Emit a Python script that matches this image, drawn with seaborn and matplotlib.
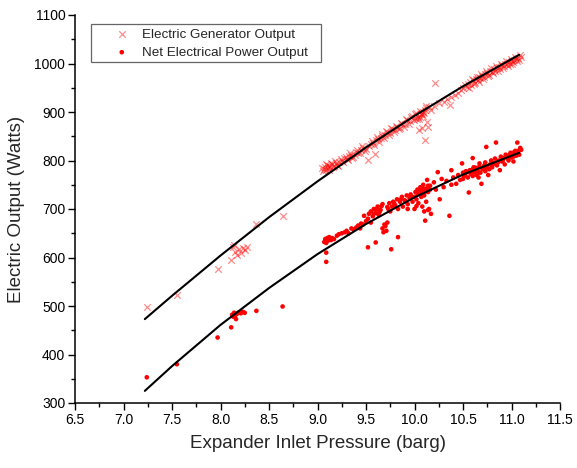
import numpy as np
import pandas as pd
import matplotlib
matplotlib.use("Agg")
import matplotlib.pyplot as plt
import matplotlib.patches as mpatches
import seaborn as sns
from matplotlib.ticker import AutoMinorLocator

# ---------------- data ----------------
gen_x = [7.24, 7.55, 7.97, 8.11, 8.13, 8.15, 8.17, 8.19, 8.21, 8.23, 8.25, 8.27, 8.14, 8.37, 8.64,
         9.05, 9.07, 9.08, 9.09, 9.10, 9.11, 9.12, 9.13, 9.15, 9.17, 9.19, 9.20,
         9.22, 9.25, 9.27, 9.30, 9.32, 9.35, 9.37, 9.40, 9.42, 9.45, 9.47, 9.50, 9.52, 9.59,
         9.55, 9.57, 9.60, 9.62, 9.65, 9.67, 9.70, 9.72, 9.75, 9.77, 9.80, 9.82, 9.85, 9.87,
         9.90, 9.92, 9.95, 9.97, 10.00, 10.02, 10.04, 10.05, 10.06, 10.07, 10.08, 10.09, 10.10,
         10.11, 10.12, 10.05, 10.08, 10.11, 10.14, 10.13, 10.15, 10.17, 10.20, 10.21, 10.25,
         10.30, 10.33, 10.37, 10.38, 10.42, 10.45, 10.48, 10.50, 10.52, 10.54, 10.55, 10.57,
         10.58, 10.60, 10.62, 10.63, 10.65, 10.67, 10.68, 10.70, 10.72, 10.73, 10.75, 10.77,
         10.78, 10.80, 10.82, 10.83, 10.85, 10.87, 10.88, 10.90, 10.92, 10.93, 10.95, 10.97,
         10.98, 11.00, 11.02, 11.03, 11.05, 11.07, 11.08, 11.10,
         9.06, 9.09, 9.12, 9.14, 9.16, 9.18, 9.21, 9.24, 9.26, 9.29, 9.31, 9.34, 9.36, 9.39,
         9.41, 9.44, 9.46, 9.49, 9.53, 9.56, 9.58, 9.61, 9.63, 9.66, 9.69, 9.71, 9.74, 9.76,
         9.79, 9.81, 9.84, 9.86, 9.89, 9.91, 9.94, 9.96, 9.99, 10.01, 10.03, 10.06, 10.09, 10.12,
         10.56, 10.59, 10.61, 10.64, 10.66, 10.69, 10.71, 10.74, 10.76, 10.79, 10.81, 10.84,
         10.86, 10.89, 10.91, 10.94, 10.96, 10.99, 11.01, 11.04, 11.06, 11.09]
gen_y = [497, 523, 577, 594, 621, 612, 605, 618, 610, 620, 616, 622, 625, 670, 686,
         785, 782, 787, 780, 790, 784, 788, 786, 792, 789, 795, 791,
         797, 800, 806, 804, 810, 812, 808, 818, 815, 822, 826, 824, 801, 813,
         833, 836, 842, 845, 846, 850, 853, 858, 857, 864, 862, 870, 868, 876,
         875, 884, 882, 892, 888, 898, 890, 885, 890, 895, 895, 900, 898,
         905, 908, 862, 868, 842, 869, 880, 910, 905, 912, 959, 918,
         920, 926, 914, 930, 935, 940, 945, 950, 955, 952, 958, 962,
         956, 965, 960, 968, 966, 972, 970, 975, 973, 978, 980, 976,
         984, 982, 988, 985, 990, 993, 988, 996, 994, 1000, 998, 1003,
         1000, 1006, 1004, 1008, 1010, 1012, 1008, 1014,
         778, 792, 781, 795, 786, 798, 789, 803, 796, 808, 801, 815, 806, 812,
         822, 816, 830, 820, 830, 840, 832, 848, 838, 854, 846, 860, 852, 866,
         858, 872, 864, 878, 870, 886, 876, 890, 884, 896, 886, 902, 892, 912,
         950, 968, 958, 972, 962, 978, 968, 984, 974, 990, 980, 995,
         984, 1000, 990, 1005, 995, 1010, 1000, 1014, 1005, 1017]

net_x = [7.24, 7.55, 7.97, 8.11, 8.16, 8.12, 8.14, 8.15, 8.17, 8.19, 8.21, 8.23, 8.25, 8.13, 8.37, 8.64,
         9.07, 9.08, 9.09, 9.10, 9.11, 9.12, 9.14, 9.15, 9.17, 9.09, 9.09, 9.20, 9.22, 9.25,
         9.28, 9.30, 9.32, 9.35, 9.37, 9.40, 9.42, 9.44, 9.45, 9.47, 9.48, 9.50, 9.52, 9.52,
         9.53, 9.55, 9.55, 9.57, 9.58, 9.60, 9.60, 9.62, 9.63, 9.65, 9.67, 9.67, 9.68, 9.69,
         9.70, 9.71, 9.72, 9.73, 9.74, 9.75, 9.76, 9.77, 9.78, 9.80, 9.82, 9.83, 9.83, 9.85,
         9.87, 9.88, 9.90, 9.92, 9.93, 9.95, 9.96, 9.98, 10.00, 10.00, 10.01, 10.02, 10.03,
         10.04, 10.05, 10.06, 10.07, 10.08, 10.08, 10.09, 10.10, 10.10, 10.11, 10.12, 10.12,
         10.13, 10.14, 10.15, 10.16, 10.17, 10.20, 10.22, 10.26, 10.28, 10.30, 10.33, 10.36,
         10.38, 10.40, 10.43, 10.45, 10.47, 10.50, 10.50, 10.52, 10.53, 10.55, 10.56, 10.57,
         10.58, 10.60, 10.60, 10.62, 10.63, 10.64, 10.65, 10.66, 10.67, 10.68, 10.69, 10.70,
         10.72, 10.73, 10.74, 10.75, 10.76, 10.78, 10.80, 10.82, 10.84, 10.85, 10.87, 10.88,
         10.90, 10.92, 10.93, 10.95, 10.97, 10.98, 11.00, 11.01, 11.02, 11.03, 11.05, 11.06,
         11.07, 11.08, 11.10, 10.24, 10.38, 10.49, 10.60, 10.02, 9.93, 10.14,
         10.51, 10.54, 10.59, 10.61, 10.65, 10.67, 10.71, 10.73, 10.77, 10.79, 10.81, 10.83,
         10.86, 10.89, 10.91, 10.94, 10.96, 10.99, 11.02, 11.04, 11.07, 11.09,
         9.58, 9.61, 9.64, 9.66, 9.72, 9.79, 9.86, 9.91, 9.97, 10.03, 10.06, 10.09, 10.11,
         10.14, 10.16]
net_y = [353, 380, 435, 456, 473, 482, 486, 480, 484, 487, 485, 488, 486, 478, 490, 499,
         632, 638, 630, 640, 635, 642, 636, 640, 638, 610, 591, 645, 648, 650,
         652, 655, 650, 660, 658, 662, 666, 660, 670, 668, 686, 675, 621, 680,
         690, 672, 695, 685, 700, 631, 692, 705, 688, 698, 710, 660, 652, 668,
         665, 655, 672, 700, 712, 695, 617, 705, 715, 708, 720, 642, 700, 715,
         725, 705, 718, 728, 710, 722, 730, 715, 725, 700, 735, 720, 740,
         712, 730, 745, 725, 735, 705, 750, 728, 695, 676, 742, 715,
         760, 735, 700, 748, 690, 755, 740, 720, 762, 745, 758, 686,
         750, 765, 752, 770, 760, 775, 762, 770, 778, 765, 734, 780,
         772, 768, 782, 776, 785, 770, 780, 765, 788, 775, 752, 782,
         790, 778, 828, 785, 770, 792, 786, 795, 837, 790, 800, 780,
         798, 805, 792, 808, 800, 812, 806, 815, 798, 818, 810, 837,
         820, 812, 822, 776, 780, 794, 805, 706, 700, 698,
         768, 776, 774, 786, 773, 794, 784, 796, 782, 800, 792, 804,
         796, 808, 800, 812, 804, 816, 808, 820, 814, 826,
         690, 700, 694, 706, 704, 712, 720, 716, 726, 732, 738, 742, 736,
         748, 740]

fit_x = [7.22, 7.5, 8.0, 8.5, 9.0, 9.5, 10.0, 10.5, 11.08]
gen_fit_y = [473, 521, 604, 683, 757, 827, 892, 953, 1018]
net_fit_y = [325, 376, 461, 537, 607, 669, 724, 771, 816]

x_ticks = [6.5, 7.0, 7.5, 8.0, 8.5, 9.0, 9.5, 10.0, 10.5, 11.0, 11.5]
y_ticks = [300, 400, 500, 600, 700, 800, 900, 1000, 1100]

# ---------------- plot ----------------
sns.set_theme(style="ticks")
plt.rcParams['font.family'] = ['Liberation Sans', 'DejaVu Sans']

W, H = 577, 468
fig = plt.figure(figsize=(W / 100, H / 100), dpi=100)
ax = fig.add_axes([75 / W, 1 - 403 / H, 485 / W, 388 / H])

gen_df = pd.DataFrame({"x": gen_x, "y": gen_y})
net_df = pd.DataFrame({"x": net_x, "y": net_y})
fit_df = pd.DataFrame({"x": fit_x, "gen": gen_fit_y, "net": net_fit_y})

sns.scatterplot(data=gen_df, x="x", y="y", marker="x", color="#ff0000", alpha=0.45,
                s=22, linewidth=0.9, ax=ax, label="Electric Generator Output", zorder=2)
sns.scatterplot(data=net_df, x="x", y="y", marker="o", color="#ff0000", edgecolor="none",
                s=11, ax=ax, label="Net Electrical Power Output", zorder=2)
sns.lineplot(data=fit_df, x="x", y="gen", color="black", linewidth=1.5, ax=ax, zorder=3)
sns.lineplot(data=fit_df, x="x", y="net", color="black", linewidth=1.5, ax=ax, zorder=3)

ax.set_xlim(6.5, 11.5)
ax.set_ylim(300, 1100)
ax.set_xticks(x_ticks)
ax.set_xticklabels([f"{v:.1f}" for v in x_ticks])
ax.set_yticks(y_ticks)
ax.xaxis.set_minor_locator(AutoMinorLocator(2))
ax.yaxis.set_minor_locator(AutoMinorLocator(2))
ax.tick_params(which="major", direction="out", length=5, width=1, colors="black", labelsize=10, pad=2)
ax.tick_params(which="minor", direction="out", length=3, width=1, colors="black")
for s in ["top", "right"]:
    ax.spines[s].set_visible(False)
for s in ["left", "bottom"]:
    ax.spines[s].set_linewidth(1.1)
    ax.spines[s].set_color("black")

ax.set_xlabel("Expander Inlet Pressure (barg)", fontsize=13.5, labelpad=6)
ax.set_ylabel("Electric Output (Watts)", fontsize=13.5, labelpad=7)

leg = ax.legend(loc="upper left", bbox_to_anchor=(111 / W, 1 - 28.5 / H), bbox_transform=fig.transFigure,
                frameon=False, fontsize=9.7, handletextpad=0.7, borderpad=0,
                labelspacing=0.4, handlelength=1.6, borderaxespad=0)
fig.add_artist(mpatches.Rectangle((91 / W, 1 - 62 / H), 230 / W, 38 / H, transform=fig.transFigure,
                                  fill=False, edgecolor="#666666", linewidth=0.9))

fig.savefig("out.png", dpi=100)
